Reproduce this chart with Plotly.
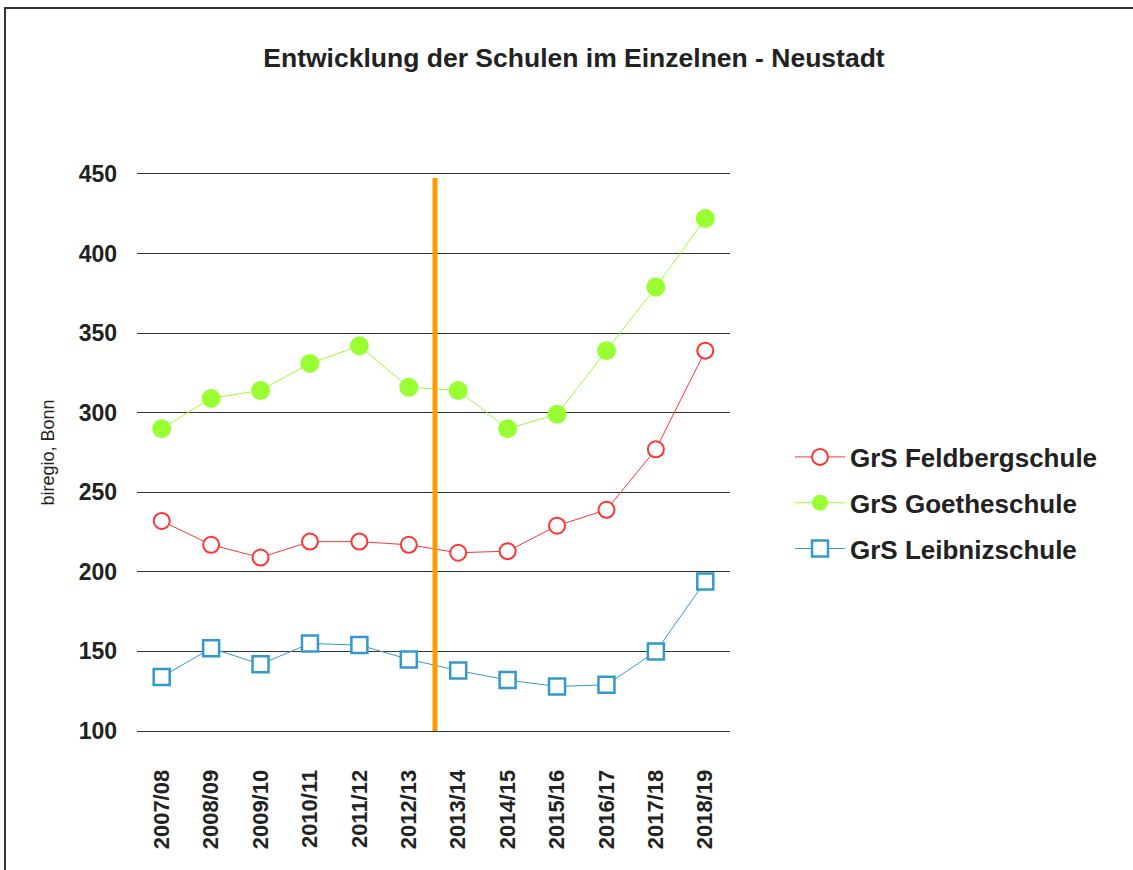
import plotly.graph_objects as go

years = ["2007/08", "2008/09", "2009/10", "2010/11", "2011/12", "2012/13",
         "2013/14", "2014/15", "2015/16", "2016/17", "2017/18", "2018/19"]
feldberg = [232, 217, 209, 219, 219, 217, 212, 213, 229, 239, 277, 339]
goethe = [290, 309, 314, 331, 342, 316, 314, 290, 299, 339, 379, 422]
leibniz = [134, 152, 142, 155, 154, 145, 138, 132, 128, 129, 150, 194]
y_ticks = [100, 150, 200, 250, 300, 350, 400, 450]

font_family = "Liberation Sans, Arial, sans-serif"

W, H = 1133, 870
L, R, T, B = 137, 403, 174, 139
PW, PH = W - L - R, H - T - B

fig = go.Figure()
fig.add_trace(go.Scatter(
    x=years, y=feldberg, name="<b>GrS Feldbergschule</b>", mode="lines+markers",
    legendgroup="a",
    line=dict(color="#FF3333", width=1),
    marker=dict(symbol="circle", size=16, color="white",
                line=dict(width=2, color="#FF3333")),
    cliponaxis=False))
fig.add_trace(go.Scatter(
    x=years, y=goethe, name="<b>GrS Goetheschule</b>", mode="lines+markers",
    legendgroup="b",
    line=dict(color="#99FF33", width=1),
    marker=dict(symbol="circle", size=19, color="#99FF33"),
    cliponaxis=False))
fig.add_trace(go.Scatter(
    x=years, y=leibniz, name="<b>GrS Leibnizschule</b>", mode="lines+markers",
    legendgroup="c",
    line=dict(color="#3399CC", width=1),
    marker=dict(symbol="square", size=16, color="white",
                line=dict(width=2.5, color="#3399CC")),
    cliponaxis=False))

# orange separator line between 2012/13 and 2013/14
fig.add_shape(type="line", xref="x", yref="y", x0=5.53, x1=5.53, y0=100, y1=447.5,
              line=dict(color="#FF9900", width=5), layer="above")

# outer frame
fig.add_shape(type="rect", xref="paper", yref="paper",
              x0=(5 - L) / PW, x1=(W + 20 - L) / PW,
              y0=-(B + 20) / PH, y1=1 + (T - 8) / PH,
              line=dict(color="#333333", width=2), fillcolor="rgba(0,0,0,0)")

# y axis title
fig.add_annotation(text="biregio, Bonn", xref="paper", yref="paper",
                   x=(47 - L) / PW, y=0.5, xanchor="center", yanchor="middle",
                   textangle=-90, showarrow=False,
                   font=dict(family=font_family, size=18, color="#222222"))

fig.update_layout(
    width=W, height=H, autosize=False,
    margin=dict(l=L, r=R, t=T, b=B, autoexpand=False),
    paper_bgcolor="white", plot_bgcolor="white",
    title=dict(text="<b>Entwicklung der Schulen im Einzelnen - Neustadt</b>",
               x=574 / W, xanchor="center", y=1 - 58 / H, yanchor="middle",
               font=dict(family=font_family, size=26.5, color="#222222")),
    font=dict(family=font_family, color="#222222"),
    xaxis=dict(type="category", range=[-0.5, 11.5], showgrid=False, automargin=False,
               showline=True, mirror=True, linecolor="#333333", linewidth=1,
               zeroline=False, ticks="", tickangle=-90,
               tickvals=years, ticktext=["<b>%s</b>" % y for y in years],
               tickfont=dict(family=font_family, size=22, color="#222222"),
               ticklabelstandoff=29),
    yaxis=dict(range=[100, 450], tickvals=y_ticks, automargin=False,
               ticktext=["<b>%d</b>" % v for v in y_ticks], showgrid=True,
               gridcolor="#333333", gridwidth=1, zeroline=False, showline=False,
               ticks="", ticklabelstandoff=19,
               tickfont=dict(family=font_family, size=23, color="#222222")),
    legend=dict(x=(790 - L) / PW, y=(731 - 503) / PH, xanchor="left", yanchor="middle",
                font=dict(family=font_family, size=26, color="#222222"),
                itemsizing="trace", tracegroupgap=9, itemwidth=50,
                bgcolor="rgba(0,0,0,0)"),
    showlegend=True,
)

fig.write_html("out.html", config={"displayModeBar": False},
               post_script="document.body.style.margin='0px';document.body.style.overflow='hidden';")
